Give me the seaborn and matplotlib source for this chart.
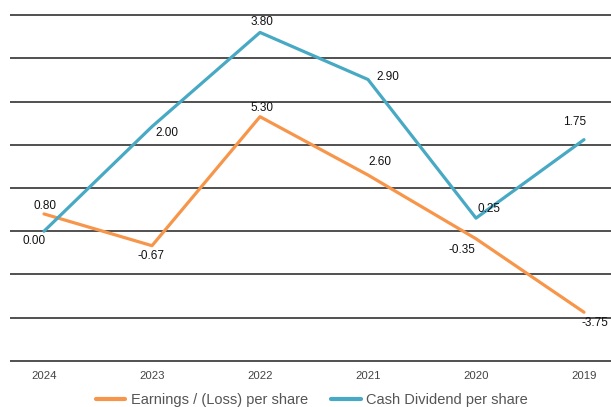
import matplotlib
matplotlib.use("Agg")
import matplotlib.pyplot as plt
import seaborn as sns
import pandas as pd

# Per-share figures by fiscal year
years = ["2024", "2023", "2022", "2021", "2020", "2019"]
earnings = [0.80, -0.67, 5.30, 2.60, -0.35, -3.75]
dividend = [0.00, 2.00, 3.80, 2.90, 0.25, 1.75]

earn_name = "Earnings / (Loss) per share"
div_name = "Cash Dividend per share"

sns.set_theme(style="white")
plt.rcParams["font.family"] = ["Liberation Sans", "DejaVu Sans"]

ORANGE = "#F7964A"
BLUE = "#47A9C3"
GRID = "#3a3a3a"

W, H = 611, 407
fig = plt.figure(figsize=(W / 100, H / 100), dpi=100)
ax = fig.add_axes([10 / W, 1 - 363 / H, 1 - 10 / W, (363 - 13) / H])
ax2 = ax.twinx()

df = pd.DataFrame({
    "pos": list(range(len(years))),
    "year": years,
    "earnings": earnings,
    "dividend": dividend,
})

sns.lineplot(data=df, x="pos", y="earnings", ax=ax, color=ORANGE,
             linewidth=2.3, label=earn_name, legend=False)
sns.lineplot(data=df, x="pos", y="dividend", ax=ax2, color=BLUE,
             linewidth=2.3, label=div_name, legend=False)

# primary scale: gridlines every 2 units
lo, hi = -6.1, 10.1
ax.set_ylim(lo, hi)
ax.set_yticks(range(-6, 11, 2))
ax.grid(axis="y", color=GRID, linewidth=1.25)
ax.grid(axis="x", visible=False)
ax.set_axisbelow(True)

# dividends on their own (hidden) scale
k = 0.413
ax2.set_ylim(lo * k, hi * k)
ax2.set_yticks([])

first_px, last_px = 44, 584
unit = (last_px - first_px) / 5
ax.set_xlim(-(first_px - 10) / unit, 5 + (611 - last_px) / unit)
ax.set_xticks(df["pos"], years)
ax.tick_params(axis="x", length=0, pad=6, labelsize=8.2, labelcolor="#444444")
ax.tick_params(axis="y", length=0, labelleft=False)
for a in (ax, ax2):
    a.set_xlabel("")
    a.set_ylabel("")
    for s in a.spines.values():
        s.set_visible(False)
ax2.tick_params(axis="y", length=0, labelright=False)

# value labels (offsets in pixels, screen-up positive)
earn_off = [(1, 8, "center"), (-1, -10, "center"), (2, 9, "center"),
            (12, 13, "center"), (-14, -11, "center"), (-2, -11, "left")]
div_off = [(-10, -10, "center"), (15, -6, "center"), (2, 10, "center"),
           (20, 3, "center"), (13, 9, "center"), (-9, 18, "center")]

for axis, vals, offs in ((ax, earnings, earn_off), (ax2, dividend, div_off)):
    for i, (v, (dx, dy, ha)) in enumerate(zip(vals, offs)):
        axis.annotate(f"{v:.2f}", (i, v), xytext=(dx, dy),
                      textcoords="offset pixels", ha=ha, va="center",
                      fontsize=8.5, color="#111111", annotation_clip=False)

h1, l1 = ax.get_legend_handles_labels()
h2, l2 = ax2.get_legend_handles_labels()
leg = fig.legend(h1 + h2, l1 + l2, loc="center",
                 bbox_to_anchor=(312 / W, 1 - 400 / H), ncol=2,
                 frameon=False, fontsize=10.5, handlelength=2.0,
                 handletextpad=0.4, columnspacing=1.6)
for t in leg.get_texts():
    t.set_color("#555555")
for ln in leg.get_lines():
    ln.set_linewidth(3)

fig.savefig("out.png", dpi=100)
